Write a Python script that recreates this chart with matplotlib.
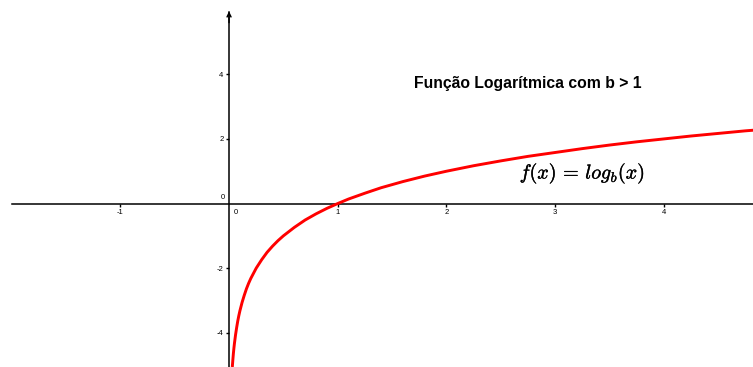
import matplotlib
matplotlib.use("Agg")
import matplotlib.pyplot as plt
import matplotlib.patheffects as pe

x_vals = [0.030, 0.035, 0.040, 0.045, 0.050, 0.060, 0.070, 0.080, 0.090, 0.100,
          0.120, 0.140, 0.160, 0.180, 0.200, 0.250, 0.300, 0.350, 0.400, 0.450,
          0.500, 0.600, 0.700, 0.800, 0.900, 1.000, 1.100, 1.250, 1.400, 1.600,
          1.800, 2.000, 2.250, 2.500, 2.750, 3.000, 3.250, 3.500, 3.750, 4.000,
          4.250, 4.500, 4.750, 4.900]
y_vals = [-5.06, -4.84, -4.64, -4.47, -4.32, -4.06, -3.84, -3.64, -3.47, -3.32,
          -3.06, -2.84, -2.64, -2.47, -2.32, -2.00, -1.74, -1.51, -1.32, -1.15,
          -1.00, -0.74, -0.51, -0.32, -0.15, 0.00, 0.14, 0.32, 0.49, 0.68,
          0.85, 1.00, 1.17, 1.32, 1.46, 1.58, 1.70, 1.81, 1.91, 2.00,
          2.09, 2.17, 2.25, 2.29]

x_ticks = [-1, 1, 2, 3, 4]
y_ticks = [-4, -2, 2, 4]
title_text = "Função Logarítmica com b > 1"
formula_text = r"$f(x)\,=\,log_b(x)$"

plt.rcParams["axes.unicode_minus"] = False
plt.rcParams["mathtext.fontset"] = "cm"
plt.rcParams["font.family"] = ["Liberation Sans", "DejaVu Sans"]

fig = plt.figure(figsize=(7.53, 3.67), dpi=100)
ax = fig.add_axes([0, 0, 1, 1])
ax.set_xlim(-2.107, 4.82)
ax.set_ylim(-5.06, 6.30)

ax.plot(x_vals, y_vals, color="#ff0000", lw=2.1, solid_capstyle="butt", zorder=3)

# axes through origin
for s in ["top", "right"]:
    ax.spines[s].set_visible(False)
ax.spines["left"].set_position(("data", 0))
ax.spines["bottom"].set_position(("data", 0))
ax.spines["left"].set_bounds(-5.06, 5.93)
ax.spines["bottom"].set_bounds(-2.0, 4.82)
ax.spines["left"].set_linewidth(1.1)
ax.spines["bottom"].set_linewidth(1.1)
ax.annotate("", xy=(0, 5.95), xytext=(0, 5.6),
            arrowprops=dict(arrowstyle="->", lw=1.1, color="black",
                            mutation_scale=7, shrinkA=0, shrinkB=0))

ax.set_xticks(x_ticks)
ax.set_yticks(y_ticks)
ax.set_xticklabels([str(t) for t in x_ticks])
ax.set_yticklabels([str(t) for t in y_ticks])
ax.tick_params(axis="both", direction="out", length=2, width=1.0,
               labelsize=5.5, pad=2, colors="black")

ax.text(0.04, -0.18, "0", fontsize=5.5, ha="left", va="top")
ax.text(-0.04, 0.08, "0", fontsize=5.5, ha="right", va="bottom")

ax.text(2.75, 3.7, title_text, fontsize=11.3, fontweight="bold",
        ha="center", va="center")
ax.text(3.25, 0.93, formula_text, fontsize=14.5, ha="center", va="center",
        path_effects=[pe.withStroke(linewidth=0.25, foreground="black")])

fig.savefig("out.png", dpi=100)
